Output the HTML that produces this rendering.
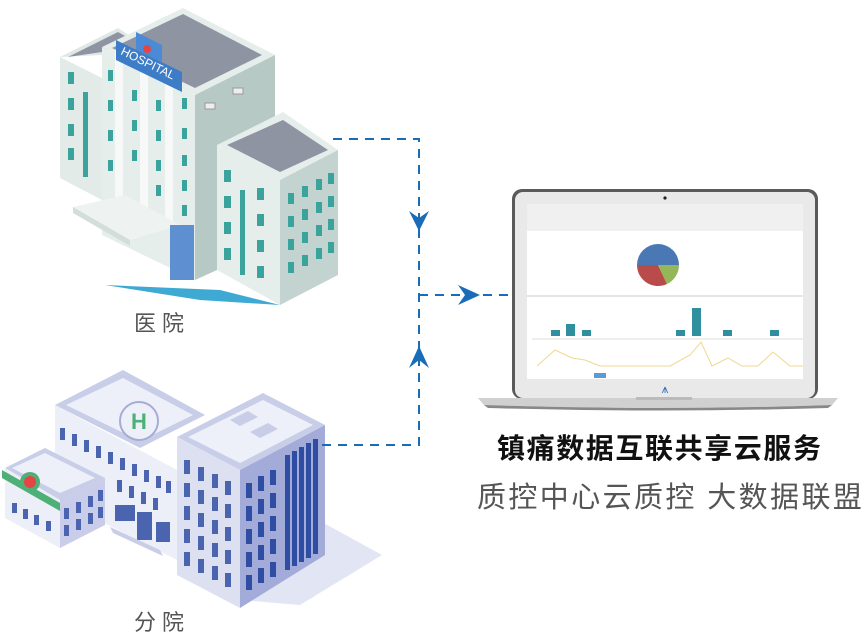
<!DOCTYPE html>
<html><head><meta charset="utf-8"><style>
html,body{margin:0;padding:0;background:#fff;}
body{width:863px;height:634px;position:relative;overflow:hidden;font-family:"Liberation Sans","Noto Sans CJK SC",sans-serif;}
.t{position:absolute;white-space:nowrap;}
</style></head><body>
<svg width="863" height="634" style="position:absolute;left:0;top:0">
<g>
<polygon points="105,285 220,290 280,305 200,300" fill="#3ea9d3"/>
<polygon points="60,57 118,28 130,36 102,55" fill="#dfe8e6"/>
<polygon points="68,57 118,32 125,36 102,52" fill="#8f94a2"/>
<polygon points="60,57 102,78 102,200 60,178" fill="#e3ebe9"/>
<polygon points="102,47 183,8 275,55 195,95" fill="#e6eeec"/>
<polygon points="112,48 183,14 262,55 195,88" fill="#8f94a2"/>
<polygon points="102,47 195,95 195,280 102,235" fill="#e6eeec"/>
<polygon points="195,95 275,55 275,140 217,145 217,270 195,280" fill="#b6c9c4"/>
<rect x="115" y="50" width="8" height="150" fill="#f6f9f8"/>
<rect x="140" y="65" width="8" height="150" fill="#f6f9f8"/>
<rect x="165" y="78" width="8" height="150" fill="#f6f9f8"/>
<polygon points="116,40 182,72 182,92 116,60" fill="#3d7cc7"/>
<polygon points="136,32 162,45 162,62 136,50" fill="#4a8ad6"/>
<circle cx="147" cy="49" r="4" fill="#e64545"/>
<text x="120" y="54" font-size="12" fill="#fff" font-family="Liberation Sans" transform="rotate(26 120 54)">HOSPITAL</text>
<polygon points="73,207 125,195 180,225 130,240" fill="#eef3f2"/>
<polygon points="73,207 130,240 130,246 73,213" fill="#d3dedb"/>
<rect x="170" y="225" width="24" height="55" fill="#5e8fd0"/>
<polygon points="217,145 283,112 338,150 280,180" fill="#e6eeec"/>
<polygon points="227,145 283,120 328,150 280,172" fill="#8f94a2"/>
<polygon points="217,145 280,180 280,305 217,270" fill="#e6eeec"/>
<polygon points="280,180 338,150 338,275 280,305" fill="#c3d3cf"/>
<g fill="#3aa39b">
<rect x="224" y="170" width="7" height="12"/><rect x="257" y="188" width="7" height="12"/>
<rect x="224" y="196" width="7" height="12"/><rect x="257" y="214" width="7" height="12"/>
<rect x="224" y="222" width="7" height="12"/><rect x="257" y="240" width="7" height="12"/>
<rect x="224" y="248" width="7" height="12"/><rect x="257" y="266" width="7" height="12"/>
<rect x="288" y="193" width="6" height="11"/><rect x="302" y="186" width="6" height="11"/><rect x="316" y="179" width="6" height="11"/><rect x="328" y="173" width="6" height="11"/>
<rect x="288" y="216" width="6" height="11"/><rect x="302" y="209" width="6" height="11"/><rect x="316" y="202" width="6" height="11"/><rect x="328" y="196" width="6" height="11"/>
<rect x="288" y="239" width="6" height="11"/><rect x="302" y="232" width="6" height="11"/><rect x="316" y="225" width="6" height="11"/><rect x="328" y="219" width="6" height="11"/>
<rect x="288" y="262" width="6" height="11"/><rect x="302" y="255" width="6" height="11"/><rect x="316" y="248" width="6" height="11"/><rect x="328" y="242" width="6" height="11"/>
<rect x="68" y="72" width="6" height="12"/><rect x="68" y="98" width="6" height="12"/><rect x="68" y="124" width="6" height="12"/><rect x="68" y="148" width="6" height="12"/>
<rect x="83" y="92" width="5" height="85"/><rect x="240" y="190" width="5" height="85"/>
<rect x="108" y="70" width="5" height="11"/><rect x="108" y="100" width="5" height="11"/><rect x="108" y="130" width="5" height="11"/><rect x="108" y="160" width="5" height="11"/>
<rect x="132" y="90" width="5" height="11"/><rect x="132" y="120" width="5" height="11"/><rect x="132" y="150" width="5" height="11"/>
<rect x="156" y="100" width="5" height="11"/><rect x="156" y="130" width="5" height="11"/><rect x="156" y="160" width="5" height="11"/><rect x="156" y="185" width="5" height="11"/>
<rect x="182" y="98" width="5" height="11"/><rect x="182" y="128" width="5" height="11"/><rect x="182" y="155" width="5" height="11"/><rect x="182" y="180" width="5" height="11"/><rect x="182" y="205" width="5" height="11"/>
</g>
<rect x="205" y="103" width="10" height="6" fill="#eee" stroke="#999"/><rect x="233" y="88" width="10" height="6" fill="#eee" stroke="#999"/>
</g>
<g>
<polygon points="300,510 382,555 300,605 240,600" fill="#e2e5f4"/>
<polygon points="55,405 123,370 205,415 140,448" fill="#c8cde8"/>
<polygon points="66,405 123,378 193,415 140,441" fill="#eef0f9"/>
<polygon points="55,405 177,470 177,560 55,498" fill="#edeff8"/>
<circle cx="139" cy="421" r="19" fill="none" stroke="#a6acd6" stroke-width="2"/>
<text x="139" y="429" font-size="22" font-weight="bold" fill="#4db077" text-anchor="middle" font-family="Liberation Sans">H</text>
<g fill="#4a64b0">
<rect x="60" y="428" width="5" height="12"/><rect x="72" y="434" width="5" height="12"/><rect x="84" y="440" width="5" height="12"/><rect x="96" y="446" width="5" height="12"/><rect x="108" y="452" width="5" height="12"/><rect x="120" y="458" width="5" height="12"/><rect x="132" y="464" width="5" height="12"/><rect x="144" y="470" width="5" height="12"/><rect x="156" y="476" width="5" height="12"/><rect x="166" y="481" width="5" height="12"/>
<rect x="117" y="480" width="5" height="12"/><rect x="129" y="486" width="5" height="12"/><rect x="141" y="492" width="5" height="12"/><rect x="153" y="498" width="5" height="12"/>
<rect x="115" y="505" width="20" height="16"/><rect x="137" y="512" width="15" height="28"/><rect x="156" y="522" width="14" height="20"/>
</g>
<polygon points="110,527 160,550 163,556 113,533" fill="#c8cde8"/>
<polygon points="5,468 45,448 105,478 60,500" fill="#c8cde8"/>
<polygon points="12,468 45,453 95,478 60,493" fill="#eef0f9"/>
<polygon points="5,468 60,500 60,548 5,518" fill="#edeff8"/>
<polygon points="60,500 105,478 105,525 60,548" fill="#c9cde9"/>
<polygon points="2,470 60,503 60,511 2,478" fill="#4db077"/>
<circle cx="30" cy="482" r="10" fill="#4db077"/><circle cx="30" cy="482" r="6" fill="#e64545"/>
<g fill="#4a64b0"><rect x="12" y="503" width="5" height="10"/><rect x="23" y="509" width="5" height="10"/><rect x="34" y="515" width="5" height="10"/><rect x="46" y="521" width="5" height="10"/>
<rect x="64" y="508" width="5" height="11"/><rect x="76" y="502" width="5" height="11"/><rect x="88" y="496" width="5" height="11"/><rect x="98" y="490" width="5" height="11"/>
<rect x="64" y="525" width="5" height="11"/><rect x="76" y="519" width="5" height="11"/><rect x="88" y="513" width="5" height="11"/><rect x="98" y="507" width="5" height="11"/></g>
<polygon points="177,437 263,393 325,425 240,470" fill="#c8cde8"/>
<polygon points="188,437 263,400 313,425 240,463" fill="#eef0f9"/>
<polygon points="230,420 248,411 258,417 240,426" fill="#c8cde8"/><polygon points="250,432 268,423 278,429 260,438" fill="#c8cde8"/>
<polygon points="177,437 240,470 240,608 177,575" fill="#dde0f1"/>
<polygon points="240,470 325,425 325,555 240,608" fill="#a3acd8"/>
<g fill="#4a64b0">
<rect x="184" y="460" width="6" height="14"/><rect x="198" y="467" width="6" height="14"/><rect x="212" y="474" width="6" height="14"/><rect x="225" y="481" width="6" height="14"/>
<rect x="184" y="483" width="6" height="14"/><rect x="198" y="490" width="6" height="14"/><rect x="212" y="497" width="6" height="14"/><rect x="225" y="504" width="6" height="14"/>
<rect x="184" y="506" width="6" height="14"/><rect x="198" y="513" width="6" height="14"/><rect x="212" y="520" width="6" height="14"/><rect x="225" y="527" width="6" height="14"/>
<rect x="184" y="529" width="6" height="14"/><rect x="198" y="536" width="6" height="14"/><rect x="212" y="543" width="6" height="14"/><rect x="225" y="550" width="6" height="14"/>
<rect x="184" y="552" width="6" height="14"/><rect x="198" y="559" width="6" height="14"/><rect x="212" y="566" width="6" height="14"/><rect x="225" y="573" width="6" height="14"/>
</g>
<g fill="#2f4da3">
<rect x="246" y="483" width="6" height="15"/><rect x="258" y="476" width="6" height="15"/><rect x="270" y="470" width="6" height="15"/>
<rect x="246" y="506" width="6" height="15"/><rect x="258" y="499" width="6" height="15"/><rect x="270" y="493" width="6" height="15"/>
<rect x="246" y="529" width="6" height="15"/><rect x="258" y="522" width="6" height="15"/><rect x="270" y="516" width="6" height="15"/>
<rect x="246" y="552" width="6" height="15"/><rect x="258" y="545" width="6" height="15"/><rect x="270" y="539" width="6" height="15"/>
<rect x="246" y="575" width="6" height="15"/><rect x="258" y="568" width="6" height="15"/><rect x="270" y="562" width="6" height="15"/>
<rect x="285" y="455" width="5" height="115"/><rect x="292" y="451" width="5" height="115"/><rect x="299" y="447" width="5" height="115"/><rect x="306" y="443" width="5" height="115"/><rect x="313" y="439" width="5" height="115"/>
</g>
</g>
<g stroke="#1a6bb8" stroke-width="2" fill="none" stroke-dasharray="9,7">
<path d="M333,139 H419 V445 H322"/>
<path d="M419,295 H510"/>
</g>
<g fill="#1a6bb8">
<path d="M409,211 L419,231 L429,211 L419,218 Z"/>
<path d="M409,368 L419,346 L429,368 L419,360 Z"/>
<path d="M458,285 L480,295 L458,305 L465,295 Z"/>
</g>
<rect x="512" y="189" width="306" height="210" rx="10" fill="#5a5a5a"/>
<rect x="515" y="192" width="300" height="206" rx="8" fill="#e9e9e9"/>
<circle cx="665" cy="198" r="1.6" fill="#222"/>
<rect x="527" y="204" width="276" height="175" fill="#fff"/>
<rect x="527" y="204" width="276" height="27" fill="#f0f0f0"/>
<line x1="527" y1="296" x2="803" y2="296" stroke="#ccc"/>
<path d="M658,265 L679,265 A21,21 0 0,0 637,265 Z" fill="#4a78b4"/>
<path d="M658,265 L637,265 A21,21 0 0,0 667,284 Z" fill="#b94b4b"/>
<path d="M658,265 L667,284 A21,21 0 0,0 679,265 Z" fill="#96b65a"/>
<g fill="#2f8f9f">
<rect x="551" y="330" width="9" height="6"/><rect x="566" y="324" width="9" height="12"/><rect x="582" y="330" width="9" height="6"/>
<rect x="676" y="330" width="9" height="6"/><rect x="692" y="308" width="9" height="28"/><rect x="723" y="330" width="9" height="6"/><rect x="770" y="330" width="9" height="6"/>
</g>
<line x1="532" y1="339" x2="803" y2="339" stroke="#ddd"/>
<polyline points="537,366 555,350 572,358 585,360 600,366 670,366 690,355 701,342 712,366 728,358 742,366 758,366 773,352 790,366 803,366" fill="none" stroke="#f0d890" stroke-width="1"/>
<rect x="594" y="373" width="12" height="5" fill="#5a9ad6"/>
<text x="665" y="393" font-size="12" fill="#2d6bb6" text-anchor="middle">⩚</text>
<path d="M478,398 H838 L832,405 Q660,411 484,405 Z" fill="#d0d0d0"/>
<path d="M484,405 Q660,411 832,405 L828,408 Q660,413 488,408 Z" fill="#888"/>
<rect x="636" y="397" width="56" height="3" fill="#bbb"/>
</svg>
<div class="t" style="left:134px;top:306px;font-size:22px;color:#555;letter-spacing:6px">医院</div>
<div class="t" style="left:134px;top:605px;font-size:22px;color:#555;letter-spacing:6px">分院</div>
<div class="t" style="left:497px;top:427px;font-size:28px;font-weight:bold;color:#111;letter-spacing:1.6px">镇痛数据互联共享云服务</div>
<div class="t" style="left:477px;top:474px;font-size:29px;color:#555;letter-spacing:2.4px">质控中心云质控 大数据联盟</div>
</body></html>
